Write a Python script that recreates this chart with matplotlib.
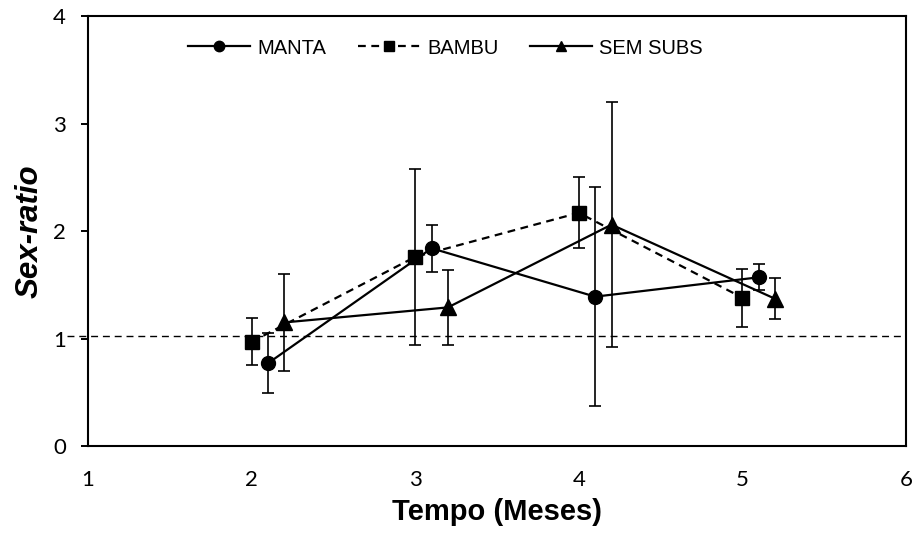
import matplotlib
matplotlib.use("Agg")
import matplotlib.pyplot as plt
from matplotlib.ticker import FixedLocator

# values
months = [2, 3, 4, 5]
offsets = {"MANTA": 0.1, "BAMBU": 0.0, "SEM SUBS": 0.2}

manta = [0.77, 1.84, 1.39, 1.57]
manta_err = [0.28, 0.22, 1.02, 0.12]

bambu = [0.97, 1.76, 2.17, 1.38]
bambu_err = [0.22, 0.82, 0.33, 0.27]

sem_subs = [1.15, 1.29, 2.06, 1.37]
sem_subs_err = [0.45, 0.35, 1.14, 0.19]

ref_line = 1.02

fig = plt.figure(figsize=(9.17, 5.39), dpi=100)
ax = fig.add_axes([0.096, 0.1725, 0.892, 0.7975])

series = [
    ("MANTA", manta, manta_err, "-", "o", 10),
    ("BAMBU", bambu, bambu_err, (0, (3.5, 2.5)), "s", 10.5),
    ("SEM SUBS", sem_subs, sem_subs_err, "-", "^", 11),
]

handles = []
for name, vals, errs, ls, mk, ms in series:
    xs = [m + offsets[name] for m in months]
    ax.errorbar(xs, vals, yerr=errs, fmt="none", ecolor="black",
                elinewidth=1.2, capsize=4, capthick=1.2, zorder=2)
    line, = ax.plot(xs, vals, color="black", linestyle=ls, linewidth=1.6,
                    marker=mk, markersize=ms, markerfacecolor="black",
                    markeredgecolor="black", zorder=3, label=name)
    handles.append(line)

# dashed reference line, starts a bit left of the y axis like the original
ax.plot([0.87, 6], [ref_line, ref_line], color="black", linestyle=(0, (5, 3.5)),
        linewidth=1.0, clip_on=False, zorder=1)

ax.set_xlim(1, 6)
ax.set_ylim(0, 4)
ax.xaxis.set_major_locator(FixedLocator([1, 2, 3, 4, 5, 6]))
ax.yaxis.set_major_locator(FixedLocator([0, 1, 2, 3, 4]))
ax.tick_params(axis="x", length=0, labelsize=16, pad=17)
ax.tick_params(axis="y", direction="out", length=5, width=1.4, labelsize=16, pad=11)
for lab in ax.get_xticklabels() + ax.get_yticklabels():
    lab.set_fontfamily("Lato")
for sp in ax.spines.values():
    sp.set_linewidth(1.5)

ax.set_xlabel("Tempo (Meses)", fontsize=21, fontweight="bold",
              family="Liberation Sans", labelpad=6)
ax.set_ylabel("Sex-ratio", fontsize=22.5, fontweight="bold", fontstyle="italic",
              family="Liberation Sans", labelpad=6)

leg = fig.legend(handles=handles, loc="center left", ncol=3, frameon=False,
                 bbox_to_anchor=(188 / 917, 1 - 48 / 539), borderpad=0,
                 borderaxespad=0, handlelength=3.1, columnspacing=1.55,
                 handletextpad=0.35,
                 prop={"family": "Liberation Sans", "size": 14.5})
for h in leg.legend_handles:
    h.set_markersize(7.5)

fig.savefig("out.png", dpi=100)
